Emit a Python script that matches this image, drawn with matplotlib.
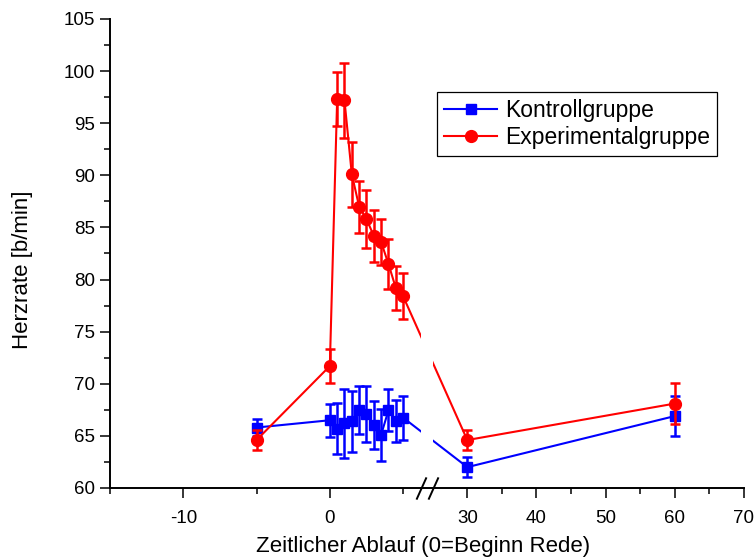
import numpy as np
import matplotlib
matplotlib.use("Agg")
import matplotlib.pyplot as plt
from matplotlib.ticker import FixedLocator, MultipleLocator

plt.rcParams["font.family"] = ["Liberation Sans", "DejaVu Sans"]

# Heart rate over time (minutes, 0 = start of speech)
times = [-5, 0, 0.5, 1, 1.5, 2, 2.5, 3, 3.5, 4, 4.5, 5, 30, 60]

ctrl_mean = [65.8, 66.5, 65.7, 66.2, 66.4, 67.5, 67.1, 66.0, 65.1, 67.45, 66.4, 66.75, 62.0, 66.9]
ctrl_err = [0.8, 1.6, 2.45, 3.3, 2.9, 2.3, 2.7, 2.3, 2.5, 2.0, 2.0, 2.1, 0.95, 1.9]

exp_mean = [64.6, 71.7, 97.3, 97.2, 90.1, 87.0, 85.8, 84.2, 83.6, 81.5, 79.2, 78.4, 64.6, 68.1]
exp_err = [1.0, 1.6, 2.6, 3.6, 3.1, 2.5, 2.8, 2.5, 2.2, 2.4, 2.1, 2.2, 0.95, 2.0]

x_major = [-10, 0, 30, 40, 50, 60, 70]
x_minor = [-15, -5, 5, 35, 45, 55, 65]

# broken x axis: [-15, BREAK_LO] at full scale, [BREAK_HI, 70] compressed
BREAK_LO, BREAK_HI = 6.2, 25.0
GAP = 0.82
RIGHT_K = 0.472
GAP_K = GAP / (BREAK_HI - BREAK_LO)
U_HI = BREAK_LO + GAP


def fwd(x):
    x = np.asarray(x, dtype=float)
    return np.where(x <= BREAK_LO, x,
                    np.where(x < BREAK_HI, BREAK_LO + (x - BREAK_LO) * GAP_K,
                             U_HI + (x - BREAK_HI) * RIGHT_K))


def inv(u):
    u = np.asarray(u, dtype=float)
    return np.where(u <= BREAK_LO, u,
                    np.where(u < U_HI, BREAK_LO + (u - BREAK_LO) / GAP_K,
                             BREAK_HI + (u - U_HI) / RIGHT_K))


fig = plt.figure(figsize=(7.56, 5.6), dpi=100)
ax = fig.add_axes([0.1455, 0.1286, 0.8386, 0.8375])
ax.set_xscale("function", functions=(fwd, inv))

blue = "#0000ff"
red = "#ff0000"

ax.errorbar(times, ctrl_mean, yerr=ctrl_err, fmt="none", ecolor=blue,
            elinewidth=1.8, capsize=3.8, capthick=1.8, zorder=2)
ax.plot(times, ctrl_mean, color=blue, lw=1.5, marker="s", ms=6.5,
        label="Kontrollgruppe", zorder=2)
ax.errorbar(times, exp_mean, yerr=exp_err, fmt="none", ecolor=red,
            elinewidth=1.8, capsize=3.8, capthick=1.8, zorder=2.1)
ax.plot(times, exp_mean, color=red, lw=1.5, marker="o", ms=8.5,
        label="Experimentalgruppe", zorder=2.1)

# hide the lines inside the axis break
ax.axvspan(BREAK_LO, BREAK_HI, ymin=0.004, color="white", lw=0, zorder=2.3)

ax.set_xlim(-15, 70)
ax.set_ylim(60, 105)
ax.xaxis.set_major_locator(FixedLocator(x_major))
ax.xaxis.set_minor_locator(FixedLocator(x_minor))
ax.set_xticklabels([str(v) for v in x_major])
ax.yaxis.set_major_locator(MultipleLocator(5))
ax.yaxis.set_minor_locator(MultipleLocator(2.5))

for side in ("top", "right"):
    ax.spines[side].set_visible(False)
for side in ("left", "bottom"):
    ax.spines[side].set_linewidth(1.4)

ax.tick_params(which="major", direction="out", length=7, width=1.1,
               labelsize=13.5)
ax.tick_params(which="minor", direction="out", length=4, width=1.1)
ax.tick_params(axis="x", which="major", pad=9)
ax.tick_params(axis="y", which="major", pad=3.5)

# break marks on the x axis
slash = [(-0.45, -1), (0.45, 1)]
ax.plot([BREAK_LO, BREAK_HI], [0, 0], transform=ax.get_xaxis_transform(),
        ls="none", marker=slash, ms=16, mec="black", mew=1.4,
        clip_on=False, zorder=3)

ax.set_xlabel("Zeitlicher Ablauf (0=Beginn Rede)", fontsize=16)
ax.xaxis.set_label_coords(0.494, -0.102)
ax.set_ylabel("Herzrate [b/min]", fontsize=16)
ax.yaxis.set_label_coords(-0.122, 0.465)

leg = ax.legend(loc="upper left", bbox_to_anchor=(0.5165, 0.8443),
                borderaxespad=0, fontsize=16.5, fancybox=False,
                edgecolor="black", framealpha=1, handlelength=2.3,
                handletextpad=0.35, borderpad=0.3, labelspacing=0.2)
leg.get_frame().set_linewidth(0.9)

fig.savefig("out.png", dpi=100)
